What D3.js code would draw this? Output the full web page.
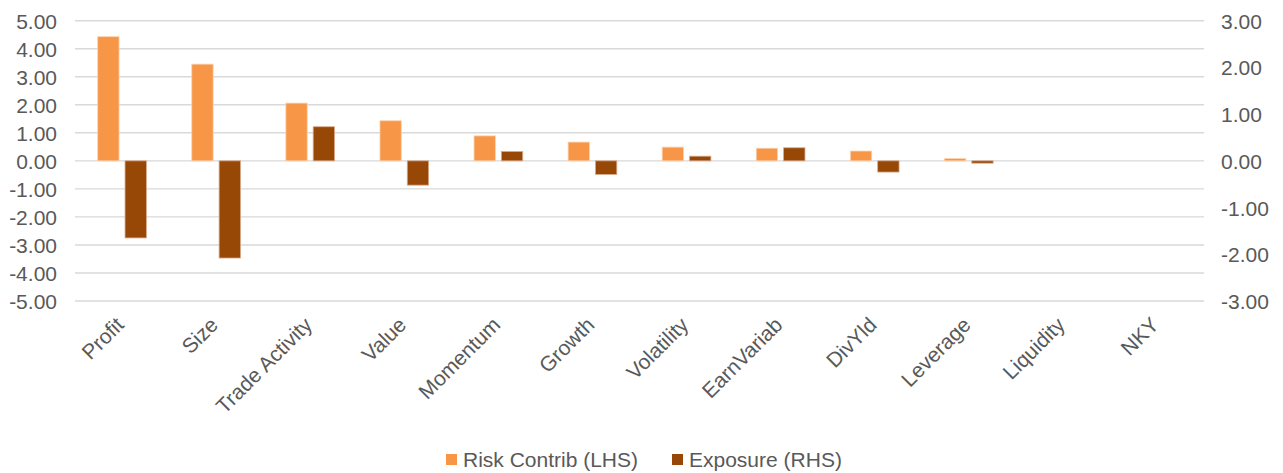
<!DOCTYPE html>
<html>
<head>
<meta charset="utf-8">
<script src="https://cdn.jsdelivr.net/npm/d3@7"></script>
<style>
  html, body { margin: 0; padding: 0; background: #fff; }
  svg { display: block; font-family: "Liberation Sans", Arial, sans-serif; }
</style>
</head>
<body>
<svg id="chart" width="1283" height="473"></svg>
<script>
// Factor risk decomposition: risk contribution (left axis) vs. exposure (right axis)
const categories = ["Profit", "Size", "Trade Activity", "Value", "Momentum", "Growth",
                    "Volatility", "EarnVariab", "DivYld", "Leverage", "Liquidity", "NKY"];
const riskContrib = [4.43, 3.45, 2.06, 1.43, 0.89, 0.67, 0.49, 0.45, 0.35, 0.08, 0, 0];
const exposure    = [-1.65, -2.08, 0.73, -0.52, 0.20, -0.29, 0.10, 0.28, -0.24, -0.05, 0, 0];
const leftTicks  = [5, 4, 3, 2, 1, 0, -1, -2, -3, -4, -5];
const rightTicks = [3, 2, 1, 0, -1, -2, -3];
const seriesNames = ["Risk Contrib (LHS)", "Exposure (RHS)"];
const colors = ["#F79646", "#974706"];

const svg = d3.select("#chart");
const plot = { left: 75, right: 1204, top: 20.7, bottom: 301 };

const x = d3.scaleBand().domain(categories).range([plot.left, plot.right]).padding(0);
const yL = d3.scaleLinear().domain([-5, 5]).range([plot.bottom, plot.top]);
const yR = d3.scaleLinear().domain([-3, 3]).range([plot.bottom, plot.top]);

const textColor = "#595959";
const fontFamily = "'Liberation Sans', Arial, sans-serif";
const fontSize = 21;
const fmt = d => d.toFixed(2);

// Gridlines
svg.append("g").selectAll("line").data(leftTicks).join("line")
  .attr("x1", plot.left).attr("x2", plot.right)
  .attr("y1", d => yL(d)).attr("y2", d => yL(d))
  .attr("stroke", "#d9d9d9").attr("stroke-width", 1.4);

// Left axis
const axL = d3.axisLeft(yL).tickValues(leftTicks).tickFormat(fmt).tickSize(0).tickPadding(0);
const gL = svg.append("g").attr("transform", "translate(57,0)").call(axL);
gL.attr("font-family", fontFamily).attr("font-size", fontSize);
gL.select(".domain").remove();
gL.selectAll("text").attr("fill", textColor).attr("dy", "0.36em");

// Right axis
const axR = d3.axisRight(yR).tickValues(rightTicks).tickFormat(fmt).tickSize(0).tickPadding(0);
const gR = svg.append("g").attr("transform", "translate(1221,0)").call(axR);
gR.attr("font-family", fontFamily).attr("font-size", fontSize);
gR.select(".domain").remove();
gR.selectAll("text").attr("fill", textColor).attr("dy", "0.36em");

// Bars
const barW = x.bandwidth() * 0.227;
const gap = barW * 0.28;
const groupW = barW * 2 + gap;

const bars = svg.append("g");
bars.selectAll("rect.risk").data(categories).join("rect").attr("class", "risk")
  .attr("x", d => x(d) + (x.bandwidth() - groupW) / 2)
  .attr("width", barW)
  .attr("y", (d, i) => Math.min(yL(riskContrib[i]), yL(0)))
  .attr("height", (d, i) => Math.abs(yL(riskContrib[i]) - yL(0)))
  .attr("fill", colors[0])
  .attr("stroke", "#fbd2b0").attr("stroke-width", 0.8);

bars.selectAll("rect.exp").data(categories).join("rect").attr("class", "exp")
  .attr("x", d => x(d) + (x.bandwidth() - groupW) / 2 + barW + gap)
  .attr("width", barW)
  .attr("y", (d, i) => Math.min(yR(exposure[i]), yR(0)))
  .attr("height", (d, i) => Math.abs(yR(exposure[i]) - yR(0)))
  .attr("fill", colors[1])
  .attr("stroke", "#d9a98a").attr("stroke-width", 0.8);

// Category labels, rotated
svg.append("g").selectAll("text").data(categories).join("text")
  .attr("transform", d => `translate(${x(d) + x.bandwidth() / 2 - 2},${321}) rotate(-45)`)
  .attr("text-anchor", "end")
  .attr("dy", "0.35em")
  .attr("fill", textColor).attr("font-size", fontSize).attr("font-family", fontFamily)
  .text(d => d);

// Legend
const legendItems = [
  { name: seriesNames[0], color: colors[0], x: 446 },
  { name: seriesNames[1], color: colors[1], x: 672 }
];
const lg = svg.append("g").attr("font-family", fontFamily);
lg.selectAll("rect").data(legendItems).join("rect")
  .attr("x", d => d.x).attr("y", 454).attr("width", 11).attr("height", 11)
  .attr("fill", d => d.color);
lg.selectAll("text").data(legendItems).join("text")
  .attr("x", d => d.x + 17).attr("y", 467)
  .attr("fill", textColor).attr("font-size", 21)
  .text(d => d.name);
</script>
</body>
</html>
